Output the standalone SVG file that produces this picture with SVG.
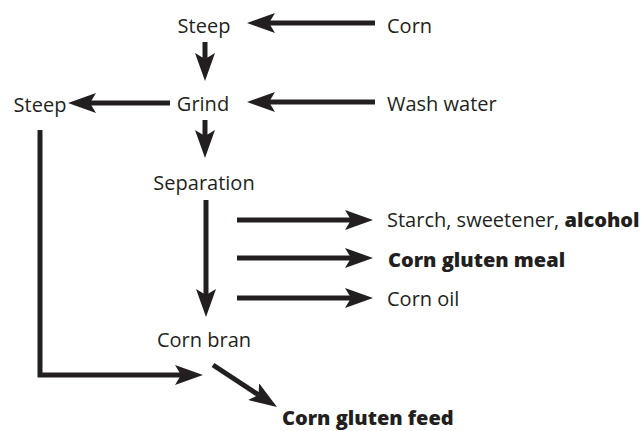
<svg xmlns="http://www.w3.org/2000/svg" width="641" height="431" viewBox="0 0 641 431">
<defs>
<marker id="ah" markerUnits="userSpaceOnUse" markerWidth="28" markerHeight="20" viewBox="0 0 28 20" refX="6" refY="10" orient="auto">
<path d="M28,10 L0,0 L6,10 L0,20 Z" fill="#231f20"/>
</marker>
<style>
text{font-family:"Open Sans","Liberation Sans",sans-serif;font-size:20px;fill:#231f20}
.b{font-weight:800}
.c{fill:none;stroke:#231f20;stroke-width:5}
.a{marker-end:url(#ah)}
</style>
</defs>
<rect width="641" height="431" fill="#fff"/>
<g id="connectors">
<path class="c a" d="M375,23 H269"/>
<path class="c a" d="M205,42 V59"/>
<path class="c a" d="M375,102 H269"/>
<path class="c a" d="M170,103 H90"/>
<path class="c a" d="M205,120 V136"/>
<path class="c a" d="M40,130 V375 H181"/>
<path class="c a" d="M206,200 V295"/>
<path class="c a" d="M237,220 H351"/>
<path class="c a" d="M237,258 H351"/>
<path class="c a" d="M237,298 H351"/>
<path class="c a" d="M213,365 L258.6,394.9"/>
</g>
<g id="steep1"><text x="204" y="33" text-anchor="middle">Steep</text></g>
<g id="corn"><text x="387" y="33">Corn</text></g>
<g id="grind"><text x="203" y="111" text-anchor="middle">Grind</text></g>
<g id="wash"><text x="387" y="111">Wash water</text></g>
<g id="steep2"><text x="40" y="112" text-anchor="middle">Steep</text></g>
<g id="separation"><text x="204" y="190" text-anchor="middle">Separation</text></g>
<g id="starch"><text x="387" y="227">Starch, sweetener, <tspan class="b">alcohol</tspan></text></g>
<g id="meal"><text x="388" y="267" class="b">Corn gluten meal</text></g>
<g id="oil"><text x="387" y="306">Corn oil</text></g>
<g id="bran"><text x="204" y="347" text-anchor="middle">Corn bran</text></g>
<g id="feed"><text x="282" y="425" class="b">Corn gluten feed</text></g>
</svg>
